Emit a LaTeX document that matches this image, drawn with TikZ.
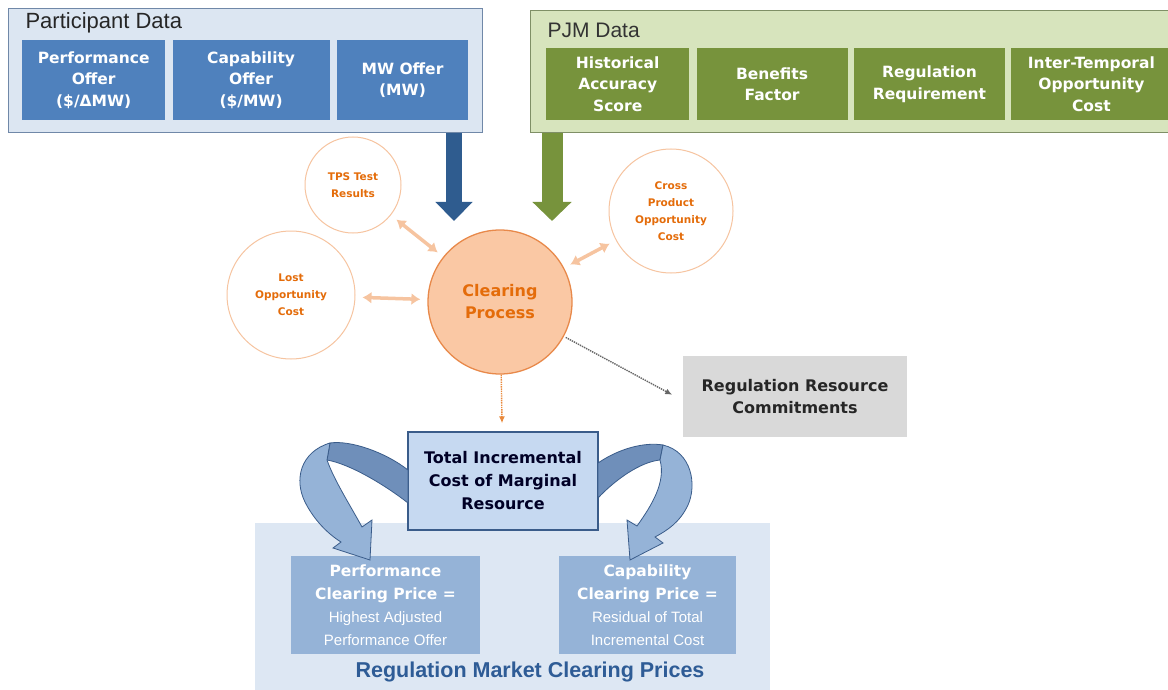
\documentclass[tikz,border=0pt]{standalone}
\usepackage{fontspec}
\setmainfont{Liberation Sans}
\newfontfamily\boxfont{DejaVu Sans}
\usetikzlibrary{arrows.meta,positioning,calc}
\definecolor{pdfill}{HTML}{DCE6F2}
\definecolor{pdline}{HTML}{7088A8}
\definecolor{pdbox}{HTML}{4F81BD}
\definecolor{pjmfill}{HTML}{D7E4BD}
\definecolor{pjmline}{HTML}{7F8F66}
\definecolor{pjmbox}{HTML}{77933C}
\definecolor{bluearr}{HTML}{2F5C8F}
\definecolor{orline}{HTML}{F6C4A0}
\definecolor{ortext}{HTML}{E46C0A}
\definecolor{cpfill}{HTML}{FAC8A4}
\definecolor{cpline}{HTML}{E8894A}
\definecolor{ticfill}{HTML}{C6D9F1}
\definecolor{ticline}{HTML}{3A5C8A}
\definecolor{pricefill}{HTML}{95B3D7}
\definecolor{bgfill}{HTML}{DDE7F3}
\definecolor{arrback}{HTML}{6F8FBA}
\definecolor{labelblue}{HTML}{2E5C96}
\newcommand{\thinline}{\mdseries\rmfamily\fontsize{15}{21}\selectfont}

\begin{document}
\begin{tikzpicture}[x=1pt, y=-1pt, node distance = 7pt]
    \tikzset{>=latex}
    \tikzstyle{group}  = [rectangle, anchor = north west, line width = 1.3pt]
    \tikzstyle{inbox}  = [rectangle, minimum height = 80pt, text = white, align = center, inner sep = 0pt,
                          font = \boxfont\bfseries\fontsize{15.5}{21.5}\selectfont]
    \tikzstyle{ring}   = [circle, draw = orline, line width = 1pt, fill = white, text = ortext, align = center,
                          inner sep = 0pt, font = \boxfont\bfseries\fontsize{10.5}{17}\selectfont]
    \tikzstyle{dbl}    = [draw = orline, line width = 3.5pt, {Latex[length=9pt,width=12pt]}-{Latex[length=9pt,width=12pt]},
                          shorten <= 7pt, shorten >= 7pt]
    \tikzstyle{dotted arrow} = [line width = 1.4pt, dash pattern = on 1.4pt off 0.9pt, -{Latex[length=7pt,width=6pt]}]
    \tikzstyle{price}  = [rectangle, fill = pricefill, text = white, align = center, minimum width = 189pt,
                          minimum height = 98pt, font = \boxfont\bfseries\fontsize{15.5}{23}\selectfont]
    \tikzstyle{big}    = [line width = 16pt, -{Triangle[width=36pt,length=19pt]}]

    \clip (0,0) rectangle (1168,690);

    % Participant data
    \node[group, draw = pdline, fill = pdfill, minimum width = 474pt, minimum height = 124pt] (pd) at (8,8) {};
    \node[anchor = west, text = black!85, font = \fontsize{22}{24}\selectfont] (pdtitle) at (22,23) {Participant Data};
    \node[inbox, fill = pdbox, minimum width = 143pt, anchor = north west] (perfoffer) at (22,40) {Performance\\Offer\\(\$/ΔMW)};
    \node[inbox, fill = pdbox, minimum width = 157pt, right = of perfoffer] (capoffer) {Capability\\Offer\\(\$/MW)};
    \node[inbox, fill = pdbox, minimum width = 131pt, right = of capoffer] (mwoffer) {MW Offer\\(MW)};

    % PJM data
    \node[group, draw = pjmline, fill = pjmfill, minimum width = 660pt, minimum height = 122pt] (pjm) at (530,10) {};
    \node[anchor = west, text = black!80, font = \fontsize{21}{24}\selectfont] (pjmtitle) at (544,30) {PJM Data};
    \node[inbox, fill = pjmbox, minimum width = 143pt, minimum height = 72pt, anchor = north west] (accuracy) at (546,48) {Historical\\Accuracy\\Score};
    \node[inbox, fill = pjmbox, minimum width = 151pt, minimum height = 72pt, right = of accuracy] (benefits) {Benefits\\Factor};
    \node[inbox, fill = pjmbox, minimum width = 151pt, minimum height = 72pt, right = 6pt of benefits] (regreq) {Regulation\\Requirement};
    \node[inbox, fill = pjmbox, minimum width = 160pt, minimum height = 72pt, right = 6pt of regreq] (intertemp) {Inter-Temporal\\Opportunity\\Cost};

    % Clearing process and inputs
    \node[ring, minimum size = 96pt]  (tps)   at (353,185) {TPS Test\\Results};
    \node[ring, minimum size = 128pt] (lost)  at (291,295) {Lost\\Opportunity\\Cost};
    \node[ring, minimum size = 124pt] (cross) at (671,211) {Cross\\Product\\Opportunity\\Cost};
    \node[circle, draw = cpline, line width = 1.3pt, fill = cpfill, minimum size = 144pt, text = ortext, align = center,
          font = \boxfont\bfseries\fontsize{16}{22}\selectfont] (cp) at (500,302) {Clearing\\Process};

    \coordinate (bluetip)  at (454,221);
    \coordinate (greentip) at (552,221);
    \draw[big, bluearr] (pd.south -| bluetip) -- (bluetip);
    \draw[big, pjmbox, line width = 21pt, -{Triangle[width=38pt,length=19pt]}] (pjm.south -| greentip) -- (greentip);

    \draw[dbl] (tps) -- (cp);
    \draw[dbl] (lost) -- (cp);
    \draw[dbl] (cross) -- (cp);

    % Outputs
    \node[rectangle, fill = black!15, minimum width = 224pt, minimum height = 81pt, align = center, text = black!85,
          font = \boxfont\bfseries\fontsize{16}{22}\selectfont] (rrc) at (795,396.5) {Regulation Resource\\Commitments};
    \draw[dotted arrow, black!60, shorten >= 12pt, shorten <= 2pt] (cp) -- ([yshift=-4pt]rrc.west);

    \node[rectangle, anchor = north west, fill = bgfill, minimum width = 515pt, minimum height = 180pt] (rmcp) at (255,523) {};
    \node[rectangle, draw = ticline, line width = 1.3pt, fill = ticfill, minimum width = 190pt, minimum height = 98pt,
          align = center, text = black!85!blue, font = \boxfont\bfseries\fontsize{16}{23}\selectfont] (tic) at (503,481)
          {Total Incremental\\Cost of Marginal\\Resource};
    \draw[dotted arrow, ortext!80, shorten >= 8pt] (cp) -- (tic);

    \node[price] (perfprice) at (385.5,605) {Performance\\Clearing Price =\\
          \thinline Highest Adjusted\\\thinline Performance Offer};
    \node[price, minimum width = 177pt] (capprice) at (647.5,605) {Capability\\Clearing Price =\\
          \thinline Residual of Total\\\thinline Incremental Cost};
    \node[text = labelblue, font = \bfseries\fontsize{21.5}{24}\selectfont] (rmcplabel) at (530,672) {Regulation Market Clearing Prices};

    % Curved arrows to the prices
    \coordinate (ptip) at (370,560);
    \coordinate (ctip) at (630,560);
    \filldraw[draw = ticline, fill = arrback, line width = 0.8pt]
        (408,470) .. controls (385,452) and (350,440) .. (330,443) -- (327,460)
        .. controls (350,464) and (385,485) .. (408,503) -- cycle;
    \filldraw[draw = ticline, fill = pricefill, line width = 0.8pt]
        (330,443) .. controls (300,452) and (294,480) .. (305,502) .. controls (314,520) and (328,534) .. (341,542)
        -- (333,548) -- (ptip) -- (372,520) -- (362,527)
        .. controls (350,505) and (334,480) .. (327,460) -- cycle;
    \filldraw[draw = ticline, fill = arrback, line width = 0.8pt]
        (598,463) .. controls (620,448) and (645,442) .. (663,445) -- (660,460)
        .. controls (640,462) and (615,480) .. (598,498) -- cycle;
    \filldraw[draw = ticline, fill = pricefill, line width = 0.8pt]
        (663,445) .. controls (692,452) and (697,485) .. (688,505) .. controls (680,522) and (668,530) .. (655,537)
        -- (663,543) -- (ctip) -- (627,520) -- (637,526)
        .. controls (652,505) and (666,482) .. (660,460) -- cycle;
\end{tikzpicture}
\end{document}
